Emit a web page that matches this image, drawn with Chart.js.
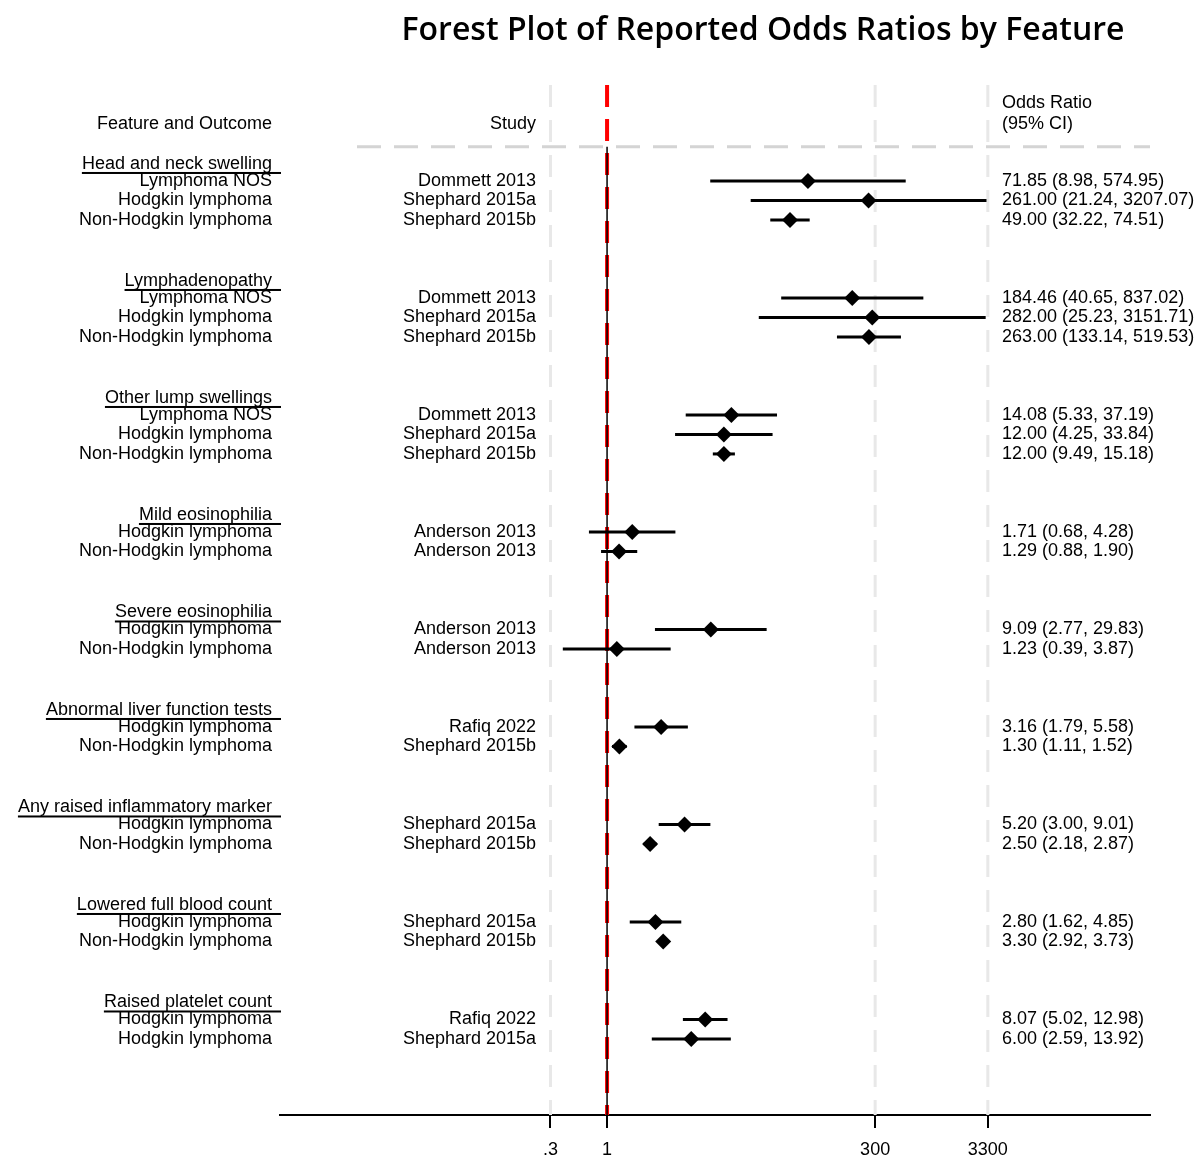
<!DOCTYPE html>
<html>
<head>
<meta charset="utf-8">
<script src="https://cdn.jsdelivr.net/npm/chart.js@4"></script>
<style>
  body { margin: 0; background: #fff; }
</style>
</head>
<body>
<canvas id="forest" width="1197" height="1160"></canvas>
<script>
let groups = ['Head and neck swelling', 'Lymphadenopathy', 'Other lump swellings', 'Mild eosinophilia',
  'Severe eosinophilia', 'Abnormal liver function tests', 'Any raised inflammatory marker',
  'Lowered full blood count', 'Raised platelet count']
let groupOf = [0, 0, 0, 1, 1, 1, 2, 2, 2, 3, 3, 4, 4, 5, 5, 6, 6, 7, 7, 8, 8]
let outcomes = ['Lymphoma NOS', 'Hodgkin lymphoma', 'Non-Hodgkin lymphoma',
  'Lymphoma NOS', 'Hodgkin lymphoma', 'Non-Hodgkin lymphoma',
  'Lymphoma NOS', 'Hodgkin lymphoma', 'Non-Hodgkin lymphoma',
  'Hodgkin lymphoma', 'Non-Hodgkin lymphoma',
  'Hodgkin lymphoma', 'Non-Hodgkin lymphoma',
  'Hodgkin lymphoma', 'Non-Hodgkin lymphoma',
  'Hodgkin lymphoma', 'Non-Hodgkin lymphoma',
  'Hodgkin lymphoma', 'Non-Hodgkin lymphoma',
  'Hodgkin lymphoma', 'Hodgkin lymphoma']
let studies = ['Dommett 2013', 'Shephard 2015a', 'Shephard 2015b',
  'Dommett 2013', 'Shephard 2015a', 'Shephard 2015b',
  'Dommett 2013', 'Shephard 2015a', 'Shephard 2015b',
  'Anderson 2013', 'Anderson 2013',
  'Anderson 2013', 'Anderson 2013',
  'Rafiq 2022', 'Shephard 2015b',
  'Shephard 2015a', 'Shephard 2015b',
  'Shephard 2015a', 'Shephard 2015b',
  'Rafiq 2022', 'Shephard 2015a']
let oddsRatio = [71.85, 261.00, 49.00, 184.46, 282.00, 263.00, 14.08, 12.00, 12.00,
  1.71, 1.29, 9.09, 1.23, 3.16, 1.30, 5.20, 2.50, 2.80, 3.30, 8.07, 6.00]
let ciLow = [8.98, 21.24, 32.22, 40.65, 25.23, 133.14, 5.33, 4.25, 9.49,
  0.68, 0.88, 2.77, 0.39, 1.79, 1.11, 3.00, 2.18, 1.62, 2.92, 5.02, 2.59]
let ciHigh = [574.95, 3207.07, 74.51, 837.02, 3151.71, 519.53, 37.19, 33.84, 15.18,
  4.28, 1.90, 29.83, 3.87, 5.58, 1.52, 9.01, 2.87, 4.85, 3.73, 12.98, 13.92]
let tickValues = [0.3, 1, 300, 3300]
let tickLabels = ['.3', '1', '300', '3300']

// row positions: one row per study, three empty rows between features
let rows = []
groupOf.forEach((g, i) => {
  if (i == 0) rows.push(0)
  else rows.push(rows[i - 1] + (g != groupOf[i - 1] ? 4 : 1))
})
let firstRow = groups.map((g, k) => rows[groupOf.indexOf(k)])

let fmt = v => v.toFixed(2)
let orText = oddsRatio.map((v, i) => fmt(v) + ' (' + fmt(ciLow[i]) + ', ' + fmt(ciHigh[i]) + ')')

const FONT = '"Liberation Sans", Arial, sans-serif'
const FSIZE = 18

let datasets = rows.map((r, i) => ({
  data: [{ x: ciLow[i], y: r }, { x: ciHigh[i], y: r }],
  showLine: true,
  borderColor: '#000',
  borderWidth: 3,
  pointRadius: 0
}))
datasets.push({
  data: rows.map((r, i) => ({ x: oddsRatio[i], y: r })),
  pointStyle: 'rectRot',
  pointRadius: 8,
  backgroundColor: '#000',
  borderColor: '#000',
  borderWidth: 0
})

let gridPlugin = {
  id: 'forestGrid',
  beforeDatasetsDraw(chart) {
    let ctx = chart.ctx
    let area = chart.chartArea
    let x = chart.scales.x
    let y = chart.scales.y
    let sepY = y.getPixelForValue(-1.75)
    ctx.save()
    // vertical grid lines at the ticks
    ctx.lineWidth = 3
    ctx.strokeStyle = '#e8e8e8'
    ctx.setLineDash([22, 13])
    tickValues.forEach(v => {
      if (v == 1) return
      let px = x.getPixelForValue(v)
      ctx.beginPath()
      ctx.moveTo(px, area.top)
      ctx.lineTo(px, area.bottom)
      ctx.stroke()
    })
    // header separator
    ctx.strokeStyle = '#d4d4d4'
    ctx.setLineDash([24, 13])
    ctx.beginPath()
    ctx.moveTo(357, sepY)
    ctx.lineTo(area.right, sepY)
    ctx.stroke()
    // no-effect line
    let px1 = x.getPixelForValue(1)
    ctx.strokeStyle = '#ff0000'
    ctx.lineWidth = 4
    ctx.setLineDash([22, 12])
    ctx.beginPath()
    ctx.moveTo(px1, area.top)
    ctx.lineTo(px1, area.bottom)
    ctx.stroke()
    ctx.setLineDash([])
    ctx.strokeStyle = '#000'
    ctx.lineWidth = 1.5
    ctx.beginPath()
    ctx.moveTo(px1, sepY)
    ctx.lineTo(px1, area.bottom)
    ctx.stroke()
    ctx.restore()
  },
  afterDraw(chart) {
    let ctx = chart.ctx
    let area = chart.chartArea
    let x = chart.scales.x
    let y = chart.scales.y
    let labelRight = area.left - 8
    let studyRight = 536
    let orLeft = 1002
    ctx.save()
    // tick marks below the axis
    ctx.strokeStyle = '#000'
    ctx.lineWidth = 2
    tickValues.forEach(v => {
      let px = Math.round(x.getPixelForValue(v))
      ctx.beginPath()
      ctx.moveTo(px, area.bottom)
      ctx.lineTo(px, area.bottom + 13)
      ctx.stroke()
    })

    ctx.fillStyle = '#000'
    ctx.textBaseline = 'middle'
    ctx.font = '600 32px "Open Sans", sans-serif'
    ctx.textAlign = 'center'
    ctx.fillText('Forest Plot of Reported Odds Ratios by Feature', 763, 31)

    ctx.font = FSIZE + 'px ' + FONT
    ctx.textAlign = 'right'
    ctx.fillText('Feature and Outcome', labelRight, y.getPixelForValue(-2.92))
    ctx.fillText('Study', studyRight, y.getPixelForValue(-2.92))
    ctx.textAlign = 'left'
    ctx.fillText('Odds Ratio', orLeft, y.getPixelForValue(-4))
    ctx.fillText('(95% CI)', orLeft, y.getPixelForValue(-2.92))

    groups.forEach((g, k) => {
      let gy = y.getPixelForValue(firstRow[k] - 0.87)
      ctx.textAlign = 'right'
      ctx.fillText(g, labelRight, gy)
      let w = ctx.measureText(g).width
      ctx.fillRect(labelRight - w, gy + 8, w + 8 + 1, 2)
    })
    rows.forEach((r, i) => {
      let ry = y.getPixelForValue(r)
      ctx.textAlign = 'right'
      ctx.fillText(outcomes[i], labelRight, ry)
      ctx.fillText(studies[i], studyRight, ry)
      ctx.textAlign = 'left'
      ctx.fillText(orText[i], orLeft, ry)
    })
    ctx.restore()
  }
}

let forest = new Chart(document.getElementById('forest'), {
  type: 'scatter',
  data: { datasets: datasets },
  plugins: [gridPlugin],
  options: {
    responsive: false,
    animation: false,
    layout: { padding: { left: 280, right: 47, top: 85, bottom: 0 } },
    plugins: { legend: { display: false }, tooltip: { enabled: false } },
    scales: {
      x: {
        type: 'logarithmic',
        min: 0.00095,
        max: 104000,
        afterBuildTicks: scale => { scale.ticks = tickValues.map(v => ({ value: v })) },
        afterFit: scale => { scale.height = 45 },
        ticks: {
          autoSkip: false,
          maxRotation: 0,
          padding: 12,
          color: '#000',
          font: { family: FONT, size: FSIZE },
          callback: (v, i) => tickLabels[i]
        },
        grid: { display: false, tickLength: 12 },
        border: { display: true, color: '#000', width: 2 }
      },
      y: {
        type: 'linear',
        display: false,
        reverse: true,
        min: -4.92,
        max: 47.9
      }
    }
  }
})
</script>
</body>
</html>
